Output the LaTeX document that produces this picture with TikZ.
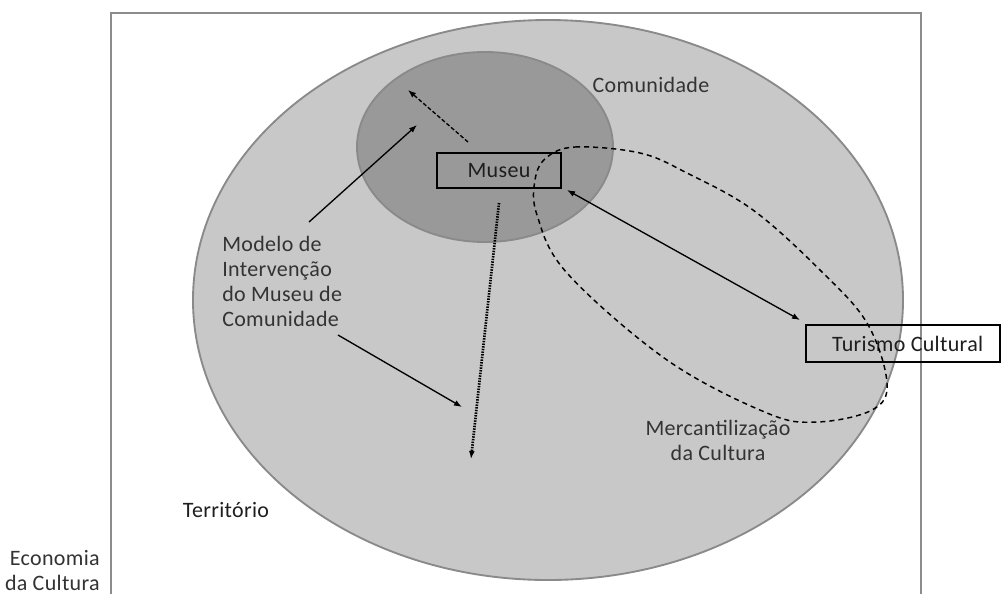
\documentclass[tikz,border=0pt]{standalone}
\usepackage{fontspec}
\setmainfont[LetterSpace=1.5]{Carlito}
\usetikzlibrary{arrows.meta,shapes.geometric}
\definecolor{terrfill}{HTML}{C8C8C8}
\definecolor{comfill}{HTML}{999999}
\definecolor{edgegray}{HTML}{8A8A8A}
\definecolor{framegray}{HTML}{8C8C8C}
\definecolor{txt}{HTML}{1E1E1E}
\definecolor{txtsoft}{HTML}{333333}
\begin{document}
\begin{tikzpicture}[x=0.75pt,y=-0.75pt,
  lbl/.style={font=\fontsize{16.5}{18.75}\selectfont, text=txtsoft, inner sep=0pt},
  mainlbl/.style={lbl, text=txt},
  boxnode/.style={draw=black, line width=1.5pt, inner sep=0pt, font=\fontsize{16.5}{18.75}\selectfont, text=txt},
  region/.style={ellipse, draw=edgegray, line width=1.4pt, inner sep=0pt},
  tip/.style={-{Latex[length=6pt,width=4.5pt]}},
  solidarrow/.style={tip, line width=1pt, black},
  dasharrow/.style={tip, line width=1pt, black, dash pattern=on 3pt off 1.6pt},
  dotarrow/.style={tip, line width=2pt, black, dash pattern=on 1.1pt off 0.9pt},
  loopline/.style={line width=1.1pt, black, dash pattern=on 3.8pt off 3pt}
]
\useasboundingbox (0,0) rectangle (1006,594);
\fill[white] (0,0) rectangle (1006,594);

% frame
\draw[framegray, line width=1.8pt] (111,594) -- (111,13) -- (921,13) -- (921,594);

% regions
\node[region, fill=terrfill, minimum width=532.5pt, minimum height=420pt] (territorio) at (548,300) {};
\node[region, fill=comfill, minimum width=192pt, minimum height=142.5pt] (comunidade) at (485,147) {};

% labels
\node[lbl] (comlbl) at (651,85) {Comunidade};
\node[lbl, align=left, anchor=west] (modelo) at (222,281.5) {Modelo de\\Intervenção\\do Museu de\\Comunidade};
\node[lbl, align=center] (merc) at (718,440.5) {Mercantilização\\da Cultura};
\node[mainlbl] (terrlbl) at (226,510) {Território};
\node[lbl, align=right, anchor=east] (econ) at (100,570) {Economia\\da Cultura};

% boxes
\node[boxnode, minimum width=93pt, minimum height=26.25pt] (museu) at (499,170.5) {Museu};
\node[boxnode, minimum width=145.5pt, minimum height=27.75pt] (turismo) at (903,343.5) {\hspace*{7pt}Turismo Cultural};

% dashed loop (Mercantilização da Cultura)
\draw[loopline] plot[smooth cycle, tension=0.6] coordinates {
  (546,158) (575,147) (640,153) (687,173) (753,210) (820,270) (867,323)
  (887,383) (872,410) (817,422) (767,413) (667,360) (567,273) (537,215) (535,180)};

% connector end points
\coordinate (a1s) at (309,222);
\coordinate (a1e) at (417,125);
\coordinate (a2s) at (468,142);
\coordinate (a2e) at (408,90);
\coordinate (a3s) at (338,335);
\coordinate (a3e) at (462,407);
\coordinate (a4s) at (499,203);
\coordinate (a4e) at (471,459);
\coordinate (a5s) at (567,190);
\coordinate (a5e) at (800,320);

\draw[solidarrow] (a1s) -- (a1e);
\draw[dasharrow] (a2s) -- (a2e);
\draw[solidarrow] (a3s) -- (a3e);
\draw[dotarrow] (a4s) -- (a4e);
\draw[solidarrow, {Latex[length=6pt,width=4.5pt]}-{Latex[length=6pt,width=4.5pt]}] (a5s) -- (a5e);
\end{tikzpicture}
\end{document}
